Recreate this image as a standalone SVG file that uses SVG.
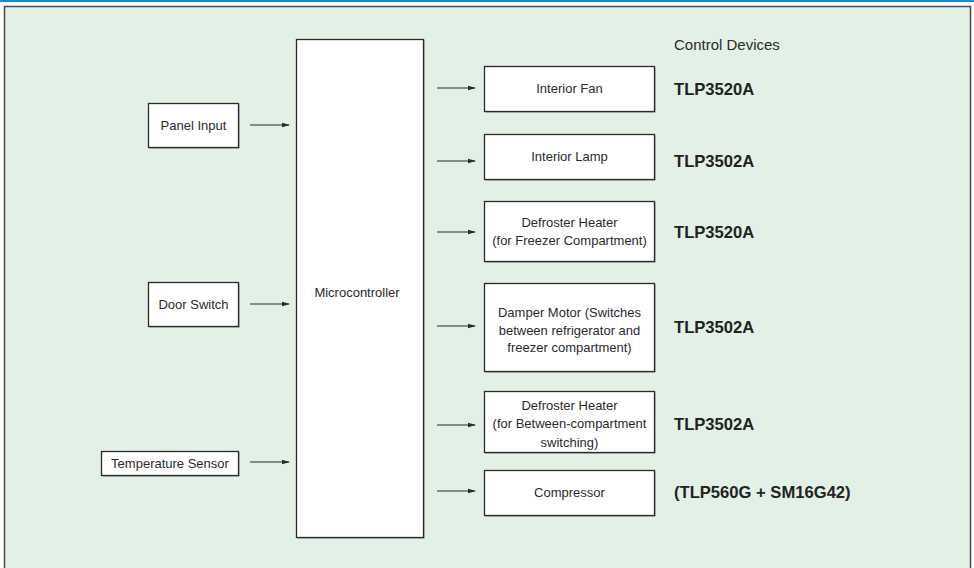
<svg xmlns="http://www.w3.org/2000/svg" width="974" height="568" viewBox="0 0 974 568">
<style>
.box{fill:#fff;stroke:#2a2a2a;stroke-width:1.3}
.sh{fill:#8a8a8a}
.t{font-family:"Liberation Sans",Arial,sans-serif;font-size:13px;fill:#2a2a2a;text-anchor:middle}
.lbl{font-family:"Liberation Sans",Arial,sans-serif;font-size:16.6px;font-weight:bold;fill:#222}
.cd{font-family:"Liberation Sans",Arial,sans-serif;font-size:15px;fill:#2a2a2a}
.c{stroke:#2a2a2a;stroke-width:1.2;fill:none;marker-end:url(#ah)}
</style>
<defs>
<marker id="ah" markerWidth="8" markerHeight="6" refX="7" refY="3" orient="auto" markerUnits="userSpaceOnUse">
<path d="M0,0.8 L8,3 L0,5.2 Z" fill="#2a2a2a"/>
</marker>
</defs>
<rect x="0" y="0" width="974" height="568" fill="#ffffff"/>
<rect x="0" y="0" width="974" height="2" fill="#1e88d0"/>
<rect x="4.5" y="6.5" width="966" height="575" fill="#e3f0e5" stroke="#4a4a4a" stroke-width="1.5"/>
<text class="cd" x="674" y="49.5">Control Devices</text>
<g id="panel-input"><rect class="sh" x="149.5" y="104.5" width="90" height="44"/><rect class="box" x="148.5" y="103.5" width="90" height="44"/><text class="t" x="193.5" y="130">Panel Input</text></g>
<g id="door-switch"><rect class="sh" x="149.5" y="283.5" width="90" height="44"/><rect class="box" x="148.5" y="282.5" width="90" height="44"/><text class="t" x="193.5" y="309">Door Switch</text></g>
<g id="temperature-sensor"><rect class="sh" x="102.5" y="452.5" width="137" height="24"/><rect class="box" x="101.5" y="451.5" width="137" height="24"/><text class="t" x="170" y="468">Temperature Sensor</text></g>
<g id="microcontroller"><rect class="sh" x="297.5" y="40.5" width="127" height="498"/><rect class="box" x="296.5" y="39.5" width="127" height="498"/><text class="t" x="357" y="297">Microcontroller</text></g>
<g id="interior-fan"><rect class="sh" x="485.5" y="67.5" width="170" height="45"/><rect class="box" x="484.5" y="66.5" width="170" height="45"/><text class="t" x="569.5" y="93">Interior Fan</text><text class="lbl" x="674" y="95">TLP3520A</text></g>
<g id="interior-lamp"><rect class="sh" x="485.5" y="135.5" width="170" height="45"/><rect class="box" x="484.5" y="134.5" width="170" height="45"/><text class="t" x="569.5" y="161">Interior Lamp</text><text class="lbl" x="674" y="167">TLP3502A</text></g>
<g id="defroster-freezer"><rect class="sh" x="485.5" y="202.5" width="170" height="60"/><rect class="box" x="484.5" y="201.5" width="170" height="60"/><text class="t" x="569.5" y="227">Defroster Heater</text><text class="t" x="569.5" y="245">(for Freezer Compartment)</text><text class="lbl" x="674" y="238">TLP3520A</text></g>
<g id="damper-motor"><rect class="sh" x="485.5" y="284.5" width="170" height="88"/><rect class="box" x="484.5" y="283.5" width="170" height="88"/><text class="t" x="569.5" y="317">Damper Motor (Switches</text><text class="t" x="569.5" y="334.5">between refrigerator and</text><text class="t" x="569.5" y="352">freezer compartment)</text><text class="lbl" x="674" y="333">TLP3502A</text></g>
<g id="defroster-between"><rect class="sh" x="485.5" y="392.5" width="170" height="61"/><rect class="box" x="484.5" y="391.5" width="170" height="61"/><text class="t" x="569.5" y="410">Defroster Heater</text><text class="t" x="569.5" y="428">(for Between-compartment</text><text class="t" x="569.5" y="446.5">switching)</text><text class="lbl" x="674" y="430">TLP3502A</text></g>
<g id="compressor"><rect class="sh" x="485.5" y="471.5" width="170" height="45"/><rect class="box" x="484.5" y="470.5" width="170" height="45"/><text class="t" x="569.5" y="497">Compressor</text><text class="lbl" x="674" y="498">(TLP560G + SM16G42)</text></g>
<g id="connectors">
<line class="c" x1="250" y1="125" x2="289" y2="125"/>
<line class="c" x1="250" y1="304" x2="289" y2="304"/>
<line class="c" x1="250" y1="462" x2="289" y2="462"/>
<line class="c" x1="437" y1="88" x2="475" y2="88"/>
<line class="c" x1="437" y1="161" x2="475" y2="161"/>
<line class="c" x1="437" y1="232" x2="475" y2="232"/>
<line class="c" x1="437" y1="326" x2="475" y2="326"/>
<line class="c" x1="437" y1="425" x2="475" y2="425"/>
<line class="c" x1="437" y1="491" x2="475" y2="491"/>
</g>
</svg>
